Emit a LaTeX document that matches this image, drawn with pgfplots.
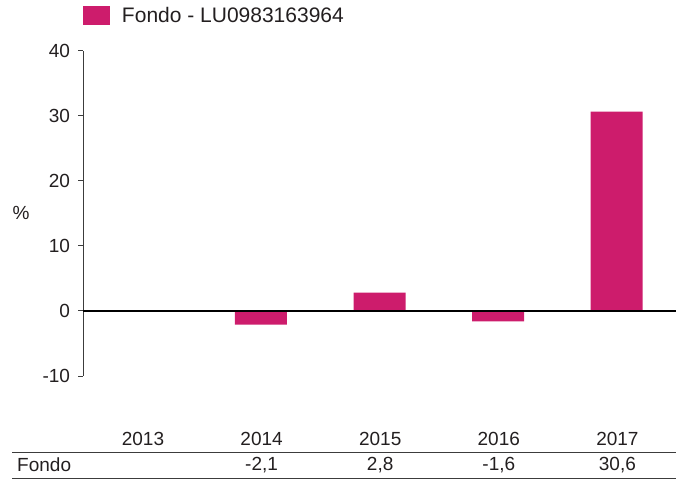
\documentclass[border=0pt]{standalone}
\usepackage{pgfplots}
\pgfplotsset{compat=1.18}
\usepackage{fontspec}
\setmainfont{Liberation Sans}
\definecolor{fondo}{RGB}{205,28,108}
\definecolor{txt}{RGB}{35,31,32}
\definecolor{ax}{RGB}{60,60,60}
\begin{document}
\begin{tikzpicture}[every node/.style={text=txt}]
\path[use as bounding box] (0,0) rectangle (682pt,479pt);
\begin{axis}[
  at={(83pt,103pt)}, anchor=south west,
  scale only axis, width=593pt, height=325.5pt,
  xmin=-0.5, xmax=4.5, ymin=-10, ymax=40,
  axis x line=none,
  axis y line=left,
  y axis line style={-, draw=ax, line width=0.9pt},
  ytick={-10,0,10,20,30,40},
  tick align=outside,
  major tick length=5pt,
  y tick style={draw=ax, line width=0.9pt},
  /pgf/number format/assume math mode=true,
  yticklabel style={font=\fontsize{19}{22}\selectfont, text=txt, xshift=-4.5pt},
  clip=false,
  legend style={at={(axis description cs:0,1)}, anchor=west, yshift=35.2pt,
    draw=none, fill=none, inner sep=0pt, outer sep=0pt,
    font=\fontsize{21}{24}\selectfont, column sep=12pt,
    nodes={inner sep=0pt, text=txt}},
  legend image code/.code={\fill[fondo] (0pt,-9.5pt) rectangle (27pt,9.5pt);},
]
\addplot[ybar, bar width=52pt, bar shift=0pt, fill=fondo, draw=none]
  coordinates {(1,-2.1) (2,2.8) (3,-1.6) (4,30.6)};
\addlegendentry{Fondo - LU0983163964}
\draw[black, line width=1.5pt] (axis cs:-0.5,0) -- (axis cs:4.5,0);
\end{axis}
\node[font=\fontsize{19}{22}\selectfont] at (21pt,266pt) {\%};
\foreach \x/\y in {143/2013,261.6/2014,380.2/2015,498.8/2016,617.4/2017}
  \node[font=\fontsize{19}{22}\selectfont] at (\x pt,40pt) {\y};
\draw[ax, line width=0.9pt] (12pt,26.7pt) -- (676pt,26.7pt);
\draw[ax, line width=0.9pt] (12pt,1pt) -- (676pt,1pt);
\node[font=\fontsize{19}{22}\selectfont, anchor=west, inner xsep=0pt] at (17pt,13.8pt) {Fondo};
\foreach \x/\y in {261.6/{-2,1},380.2/{2,8},498.8/{-1,6},617.4/{30,6}}
  \node[font=\fontsize{19}{22}\selectfont] at (\x pt,13.8pt) {\y};
\end{tikzpicture}
\end{document}
